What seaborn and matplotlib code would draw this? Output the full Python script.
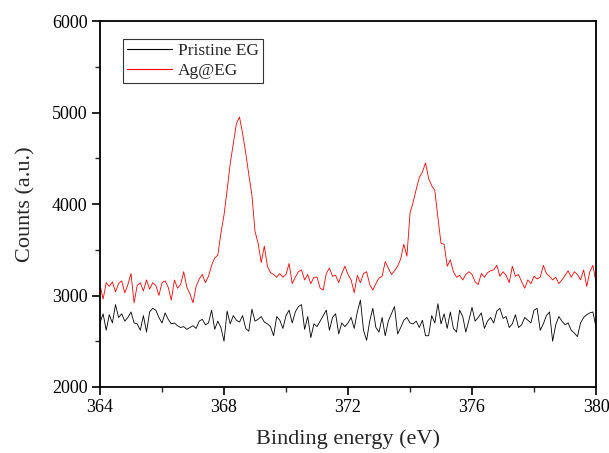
import numpy as np
import pandas as pd
import matplotlib
matplotlib.use("Agg")
import matplotlib.pyplot as plt
from matplotlib.ticker import MultipleLocator
import seaborn as sns

# Binding energy grid (eV), 0.1 eV steps from 364.0 to 380.0
energy = [round(364.0 + 0.1 * i, 1) for i in range(161)]

pristine_eg = [
    2700, 2800, 2620, 2790, 2700, 2900, 2760, 2800, 2720, 2760,
    2820, 2700, 2690, 2620, 2780, 2600, 2820, 2860, 2840, 2760,
    2700, 2810, 2740, 2690, 2700, 2670, 2650, 2660, 2630, 2650,
    2670, 2640, 2720, 2740, 2680, 2700, 2840, 2630, 2720, 2650,
    2500, 2830, 2690, 2780, 2730, 2710, 2780, 2640, 2610, 2850,
    2720, 2740, 2770, 2710, 2690, 2660, 2560, 2770, 2730, 2640,
    2780, 2840, 2700, 2820, 2880, 2900, 2630, 2770, 2540, 2690,
    2660, 2720, 2780, 2840, 2620, 2760, 2800, 2580, 2700, 2660,
    2700, 2760, 2640, 2820, 2950, 2620, 2510, 2720, 2860, 2650,
    2600, 2760, 2560, 2720, 2800, 2880, 2580, 2650, 2730, 2760,
    2700, 2690, 2720, 2650, 2730, 2560, 2560, 2780, 2700, 2910,
    2690, 2800, 2640, 2820, 2640, 2600, 2840, 2770, 2600, 2730,
    2870, 2720, 2760, 2810, 2640, 2720, 2760, 2700, 2830, 2860,
    2750, 2770, 2650, 2690, 2790, 2650, 2680, 2760, 2730, 2700,
    2840, 2860, 2620, 2690, 2780, 2820, 2500, 2680, 2770, 2720,
    2680, 2700, 2620, 2590, 2550, 2700, 2760, 2790, 2810, 2820,
    2650,
]

ag_eg = [
    3120, 2960, 3140, 3100, 3150, 3040, 3130, 3160, 3030, 3120,
    3240, 2920, 3110, 3140, 3050, 3170, 3070, 3140, 3110, 3000,
    3140, 3160, 3090, 2950, 3170, 3080, 3120, 3260, 3090, 3020,
    2920, 3100, 3180, 3230, 3140, 3210, 3330, 3410, 3440, 3680,
    3880, 4150, 4440, 4660, 4880, 4950, 4770, 4560, 4320, 4100,
    3700, 3570, 3360, 3540, 3320, 3250, 3230, 3200, 3240, 3200,
    3230, 3350, 3130, 3200, 3260, 3280, 3170, 3230, 3130, 3200,
    3200, 3080, 3060, 3240, 3300, 3210, 3220, 3140, 3240, 3320,
    3230, 3170, 3030, 3220, 3140, 3240, 3260, 3120, 3060, 3130,
    3190, 3210, 3370, 3300, 3230, 3270, 3320, 3400, 3560, 3430,
    3900, 4020, 4160, 4290, 4350, 4450, 4280, 4200, 4150, 3850,
    3570, 3560, 3320, 3390, 3260, 3200, 3220, 3170, 3230, 3260,
    3230, 3150, 3120, 3240, 3200, 3250, 3270, 3280, 3330, 3210,
    3260, 3220, 3140, 3320, 3210, 3230, 3150, 3080, 3170, 3130,
    3210, 3180, 3200, 3330, 3240, 3210, 3170, 3200, 3130, 3170,
    3220, 3270, 3200, 3260, 3230, 3170, 3280, 3100, 3260, 3330,
    3140,
]

series_names = ["Pristine EG", "Ag@EG"]
series_colors = ["#000000", "#ff0000"]
x_ticks = [364, 368, 372, 376, 380]
y_ticks = [2000, 3000, 4000, 5000, 6000]

df = pd.concat([
    pd.DataFrame({"energy": energy, "counts": pristine_eg, "sample": series_names[0]}),
    pd.DataFrame({"energy": energy, "counts": ag_eg, "sample": series_names[1]}),
], ignore_index=True)

sns.set_theme(style="ticks")
plt.rcParams["font.family"] = ["Liberation Serif", "DejaVu Serif"]

fig = plt.figure(figsize=(6.09, 4.53), dpi=100)
ax = fig.add_axes([0.1642, 0.1457, 0.8145, 0.8079])

sns.lineplot(data=df, x="energy", y="counts", hue="sample",
             palette=dict(zip(series_names, series_colors)),
             linewidth=0.6, ax=ax, estimator=None, sort=False)

ax.set_xlim(364, 380)
ax.set_ylim(2000, 6000)
ax.set_xticks(x_ticks)
ax.set_yticks(y_ticks)
ax.xaxis.set_minor_locator(MultipleLocator(2))
ax.yaxis.set_minor_locator(MultipleLocator(500))
ax.tick_params(which="major", direction="out", length=6, width=1.2,
               labelsize=13, colors="#000000", pad=3)
ax.tick_params(which="minor", direction="out", length=3.5, width=1.0)
ax.tick_params(top=False, right=False, which="both")
for s in ax.spines.values():
    s.set_visible(True)
    s.set_linewidth(1.3)
    s.set_color("#000000")

ax.set_xlabel("Binding energy (eV)", fontsize=16, labelpad=9)
ax.set_ylabel("Counts (a.u.)", fontsize=16, labelpad=12)

leg = ax.legend(loc="upper left", bbox_to_anchor=(0.046, 0.951),
                borderaxespad=0, fontsize=12.5, frameon=True, fancybox=False,
                handlelength=2.6, handletextpad=0.3, borderpad=0.25,
                labelspacing=0.2, title=None)
leg.get_frame().set_edgecolor("#000000")
leg.get_frame().set_linewidth(0.8)
for line in leg.get_lines():
    line.set_linewidth(0.8)

fig.savefig("out.png", dpi=100)
